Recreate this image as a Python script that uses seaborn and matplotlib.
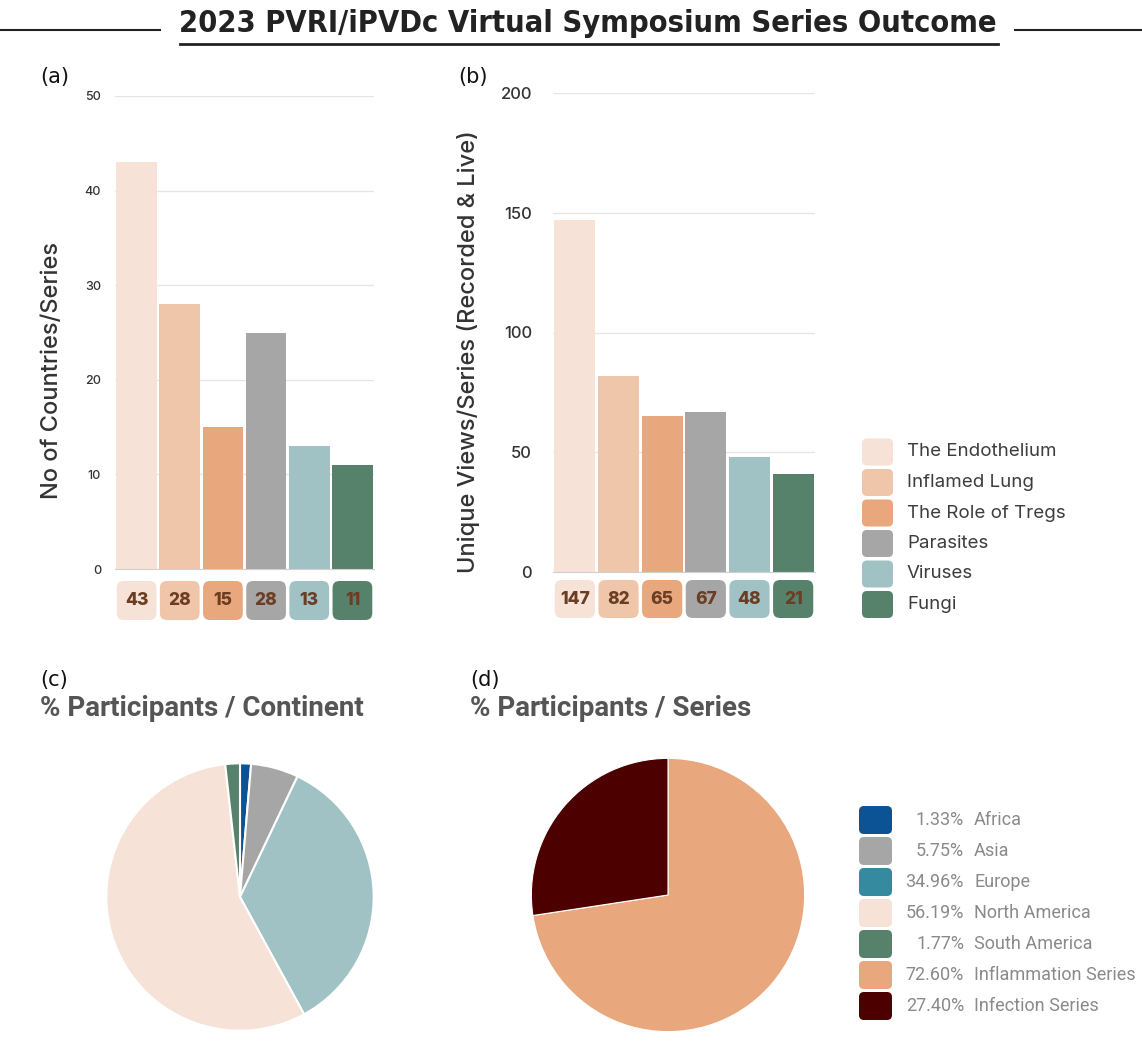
import matplotlib
matplotlib.use("Agg")
import matplotlib.pyplot as plt
import pandas as pd
import seaborn as sns
from matplotlib.patches import FancyBboxPatch

W, H = 1142, 1042

TITLE = "2023 PVRI/iPVDc Virtual Symposium Series Outcome"

series = ["The Endothelium", "Inflamed Lung", "The Role of Tregs", "Parasites", "Viruses", "Fungi"]
series_colors = ["#f6e2d7", "#f0c6aa", "#e8a77c", "#a6a6a6", "#a0c2c5", "#56826b"]
countries_bar = [43, 28, 15, 25, 13, 11]
countries_label = [43, 28, 15, 28, 13, 11]
views_bar = [147, 82, 65, 67, 48, 41]
views_label = [147, 82, 65, 67, 48, 21]

continents = ["Africa", "Asia", "Europe", "North America", "South America"]
continent_pct = [1.33, 5.75, 34.96, 56.19, 1.77]
continent_pie_colors = ["#0b5394", "#a6a6a6", "#a0c2c5", "#f6e2d7", "#56826b"]
continent_key_colors = ["#0b5394", "#a6a6a6", "#358a9f", "#f6e2d7", "#56826b"]

groups = ["Inflammation Series", "Infection Series"]
group_pct = [72.60, 27.40]
group_colors = ["#e8a77c", "#4d0000"]

BAR_FONT = ["Inter", "DejaVu Sans"]
PIE_FONT = ["Roboto", "DejaVu Sans"]
LABEL_BROWN = "#6b3d22"


def fx(x):
    return x / W


def fy(y):
    return 1 - y / H


def px_axes(fig, left, top, right, bottom):
    return fig.add_axes([fx(left), fy(bottom), (right - left) / W, (bottom - top) / H])


def bar_panel(fig, box, strip, values, labels, ymax, step, ticksize, pad, ylabel, label_xy):
    ax = px_axes(fig, *box)
    df = pd.DataFrame({"series": series, "value": values})
    sns.barplot(data=df, x="series", y="value", hue="series", palette=series_colors,
                saturation=1, width=0.94, legend=False, ax=ax)
    ax.set_xlim(-0.5, len(series) - 0.5)
    ax.set_ylim(0, ymax)
    ax.set_yticks(range(0, ymax + 1, step))
    ax.set_xticks([])
    ax.set_xlabel("")
    ax.yaxis.grid(True, color="#e6e6e6", lw=1)
    ax.set_axisbelow(True)
    for side in ["top", "right", "left"]:
        ax.spines[side].set_visible(False)
    ax.spines["bottom"].set_color("#d0d0d0")
    ax.tick_params(axis="y", length=0, pad=pad, labelsize=ticksize, labelcolor="#333333")
    for t in ax.get_yticklabels():
        t.set_family(BAR_FONT)
        t.set_weight("medium")
    ax.set_ylabel(ylabel, fontsize=17, color="#333333", family=BAR_FONT, weight="medium")
    ax.yaxis.set_label_coords(*label_xy)

    sx = px_axes(fig, *strip)
    sx.set_xlim(-0.5, len(series) - 0.5)
    sx.set_ylim(0, 1)
    sx.axis("off")
    unit_x = (strip[2] - strip[0]) / len(series)
    unit_y = strip[3] - strip[1]
    for i, (lab, col) in enumerate(zip(labels, series_colors)):
        sx.add_patch(FancyBboxPatch((i - 0.46, 0), 0.92, 1,
                                    boxstyle="round,pad=0,rounding_size=0.16",
                                    mutation_aspect=unit_x / unit_y, fc=col, ec="none"))
        sx.text(i, 0.5, str(lab), ha="center", va="center", fontsize=12.5,
                weight="heavy", color=LABEL_BROWN, family=BAR_FONT)
    return ax


fig = plt.figure(figsize=(W / 100, H / 100), dpi=100)
fig.patch.set_facecolor("white")

ov = fig.add_axes([0, 0, 1, 1])
ov.set_xlim(0, W)
ov.set_ylim(H, 0)
ov.axis("off")

# header: squeeze the title so it spans the same width as in the source
title = fig.text(fx(588), fy(24), TITLE, ha="center", va="center", fontsize=29, weight="bold",
                 color="#222222", family=["DejaVu Sans"], fontstretch="condensed")
fig.canvas.draw()
width = title.get_window_extent().width
if width > 820:
    title.set_fontsize(29 * 818 / width)
ov.plot([0, 160], [30, 30], color="#222222", lw=1.5)
ov.plot([1015, W], [30, 30], color="#222222", lw=1.5)
ov.plot([180, 998], [44, 44], color="#222222", lw=2)

for letter, x, y in [("(a)", 40, 77), ("(b)", 458, 77), ("(c)", 40, 680), ("(d)", 470, 680)]:
    fig.text(fx(x), fy(y), letter, ha="left", va="center", fontsize=15, color="#111111")

bar_panel(fig, (115, 96, 374, 569), (115, 581, 374, 620), countries_bar, countries_label,
          50, 10, 9, 10, "No of Countries/Series", (-0.2, 0.42))
bar_panel(fig, (553, 93, 815, 572), (553, 580, 815, 618), views_bar, views_label,
          200, 50, 12, 15, "Unique Views/Series (Recorded & Live)", (-0.28, 0.46))

# series key
for i, (name, col) in enumerate(zip(series, series_colors)):
    yc = 452 + i * 30.5
    ov.add_patch(FancyBboxPatch((862, yc - 13.5), 31, 27, boxstyle="round,pad=0,rounding_size=5",
                                fc=col, ec="none"))
    ov.text(907, yc, name, ha="left", va="center", fontsize=13.5, color="#3d3d3d", family=BAR_FONT)

# pies
pc = px_axes(fig, 105, 762, 375, 1032)
pc.pie(continent_pct, colors=continent_pie_colors, startangle=90, counterclock=False,
       wedgeprops=dict(edgecolor="white", linewidth=1.5))
pc.set_xlim(-1.01, 1.01)
pc.set_ylim(-1.01, 1.01)
pc.set_aspect("equal")

pd_ax = px_axes(fig, 530, 757, 806, 1033)
pd_ax.pie(group_pct, colors=group_colors, startangle=90, counterclock=False,
          wedgeprops=dict(edgecolor="white", linewidth=0.8))
pd_ax.set_xlim(-1.01, 1.01)
pd_ax.set_ylim(-1.01, 1.01)
pd_ax.set_aspect("equal")

fig.text(fx(40), fy(708), "% Participants / Continent", ha="left", va="center", fontsize=20,
         weight="bold", color="#555555", family=PIE_FONT)
fig.text(fx(470), fy(708), "% Participants / Series", ha="left", va="center", fontsize=20,
         weight="bold", color="#555555", family=PIE_FONT)

# pie key
key_names = continents + groups
key_pct = continent_pct + group_pct
key_colors = continent_key_colors + group_colors
for i, (name, pct, col) in enumerate(zip(key_names, key_pct, key_colors)):
    yc = 820 + i * 31
    ov.add_patch(FancyBboxPatch((859, yc - 14), 33, 28, boxstyle="round,pad=0,rounding_size=5",
                                fc=col, ec="none"))
    ov.text(964, yc, f"{pct:.2f}%", ha="right", va="center", fontsize=13, color="#8a8a8a",
            family=PIE_FONT)
    ov.text(974, yc, name, ha="left", va="center", fontsize=13, color="#8a8a8a", family=PIE_FONT)

fig.savefig("out.png", dpi=100, facecolor="white")
